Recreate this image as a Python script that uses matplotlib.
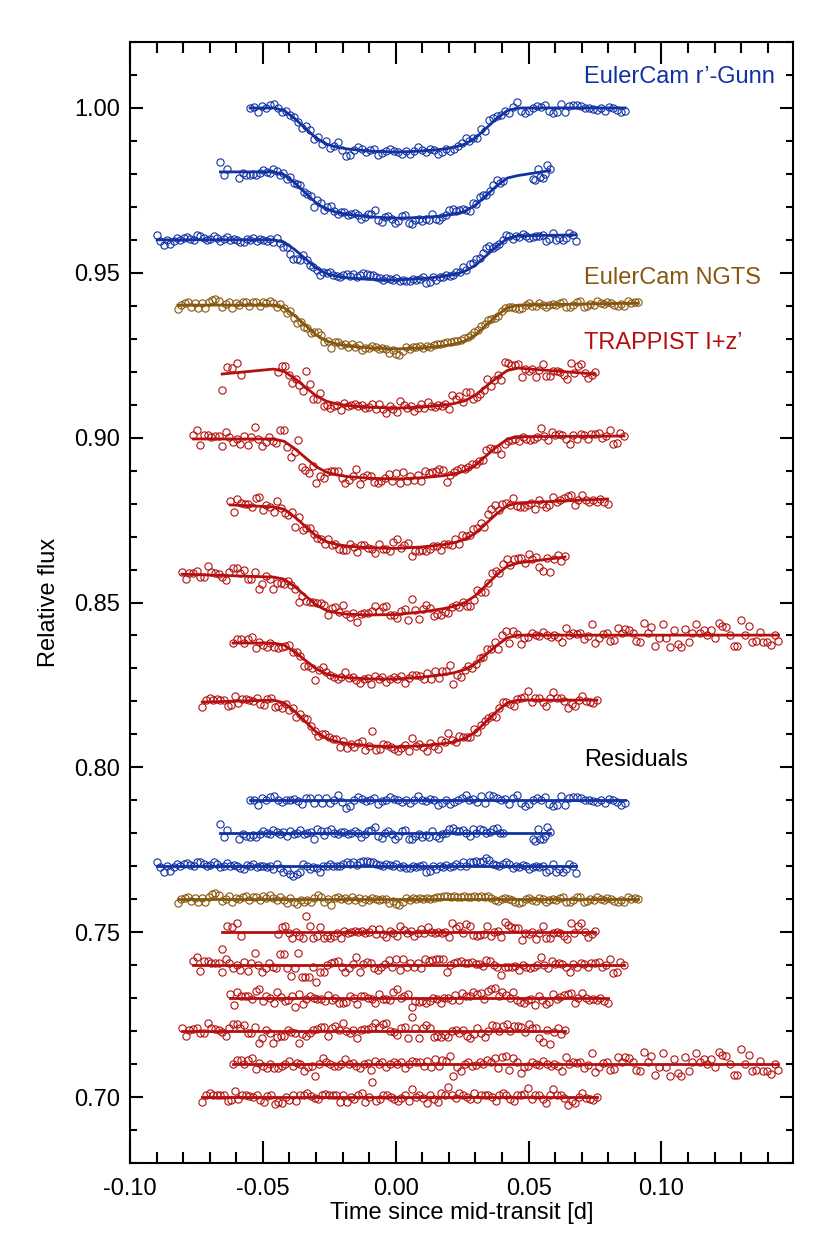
import numpy as np
import matplotlib.pyplot as plt
from matplotlib.ticker import MultipleLocator, FormatStrFormatter

plt.rcParams['font.family'] = ['Liberation Sans', 'DejaVu Sans']
plt.rcParams['axes.unicode_minus'] = False

# transit shape (fraction of the depth)
shape_t = [-0.046, -0.042, -0.038, -0.034, -0.030, -0.026, -0.022, -0.018, -0.010, 0.0,
           0.010, 0.018, 0.022, 0.026, 0.030, 0.034, 0.038, 0.042, 0.046]
shape_f = [0.0, 0.06, 0.24, 0.46, 0.68, 0.82, 0.89, 0.93, 0.975, 1.0,
           0.975, 0.93, 0.89, 0.82, 0.68, 0.46, 0.24, 0.06, 0.0]

# each light curve: time segments (start, end, n points), baseline at
# [start, ingress, egress, end], transit depth, residuals in units of 1e-4
b1_segs = [(-0.0548, 0.0863, None)]
b1_base = [1.0000, 1.0000, 1.0000, 1.0000]
b1_depth = 0.0134
b1_res = [0, 2, -13, 7, 0, 10, 12, 2, -6, 2, 0, 4, -3, -10, 7, 7, -8, 7, -8, 7,
          -8, 2, 17, -6, -23, -18, 0, 10, 4, -3, 2, 7, -10, -3, 2, 10, 4, 0, -6, 2,
          -8, 0, 14, 2, -3, 4, 0, -13, -8, 0, -10, -6, 0, 7, 17, 2, 4,
          -6, 12, -8, 17, 12, 7, 0, 4, -10, 7, 17, -8, -16, -10, 0, 7, 2, 10, -10, -16,
          -13, 12, -13, 7, 10, 10, 7, 0, 0, -3, -6, 0, -8, 4, 0, -6, -13, -8]

b2_segs = [(-0.0660, -0.0635, 3), (-0.0588, 0.0405, 79), (0.0516, 0.0580, None)]
b2_base = [0.9806, 0.9806, 0.9795, 0.9810]
b2_depth = 0.0135
b2_res = [29, -10, 10,
          -18, -3, -8, -10, -6, -10, -3, 7, 0, -3, 10, 4, -3, 4, -8, 7, -3, 2, 10, -3,
          2, 4, -18, 12, 7, -6, 7, 14, 2, -3, 4, 4, -3, 2, 7, 2, -10, -3, 7, 10,
          20, -8, -13, 2, 7, -3, -16, -8, 7, 10, -16, -18, -8, -3, -10, -6, -10, 7, -8, -13,
          -3, 0, 14, 17, 7, 7, 10, 2, -8, 12, 2, 12, 10, 2, 4, 12, 17, 2, 0,
          -18, -23, 12, -16, -18, -8, 19, 5]

b3_segs = [(-0.0898, 0.0678, None)]
b3_base = [0.9600, 0.9600, 0.9612, 0.9615]
b3_depth = 0.0128
b3_res = [14, -3, -16, 0, -13, -3, 7, 0, 7, 10, 4, 0, 14, 12, 7, 0, 4, 12, 7, -3,
          2, 10, 0, 4, 0, -6, -8, 4, 0, 7, -3, 2, 0, -3, 2, -8, 7, -6, -16, -10,
          -23, -30, -23, -18, 7, 0, -8, -3, -6, -16, 0, 2, 7, 0, 2, 0, 7, 12, 7, 12,
          4, 12, 17, 17, 12, 14, 7, 4, 0, 7, 4, 0, 7, -3, 0, -6, -6, 0, -3, 0,
          4, -16, -13, 0, -8, 0, -3, 4, -3, 0, 7, 2, 14,
          2, 14, 12, 17, 12, 17, 24, 20, 7, 4, 0, 7, 14, 7, -6, 0, -3, 4, 0, -8,
          -3, 0, -3, 0, -16, -10, 7, -16, -8, -16, -8, 7, 0, -20]

ng_segs = [(-0.0820, 0.0912, None)]
ng_base = [0.9402, 0.9402, 0.9402, 0.9408]
ng_depth = 0.0133
ng_res = [-12, 0, 5, 8, -5, 5, -8, 5, -8, 8, 15, 18, 12, -5, 2, 10, -8, 5, 0, 8,
          10, -2, 8, 8, -2, 10, 5, 12, 5, -2, 8, -2, -10, 5, -8, -15, -2, -8, -2, -8,
          5, 12, 8, -8, 0, -18, 5, 8, 0, 5, -2, 8, -2, 5, -8, 0, -2, 5, 2, -2,
          2, 0, -12, -5, -15, -18, -8, 5, -2, 5, 2, 5, 0, 5, 0, 5, 8, 8, 10, 10,
          8, 10, 8,
          8, 10, 8, 8, 10, 8, 10, 8, 10, 5, -2, -5, 2, 5, 0, -2, -8, -12, -8, 0,
          5, -2, -5, 5, 0, -8, -2, 2, -2, 5, 8, -8, -8, -2, 8, 8, -8, -5, 0, -2,
          8, 2, -2, 5, 2, -5, -8, -2, -8, 8, 2, 5, 2]

t1_segs = [(-0.0653, -0.0581, 5), (-0.0442, 0.0750, None)]
t1_base = [0.9193, 0.9208, 0.9211, 0.9193]
t1_depth = 0.0120
t1_res = [-50, 20, 15, 28, -10,
          -5, 15, 18, -2, -18, 2, -10, -18, 50, 20, -18, -10, 15, -18, -10, -18, -10, -2, -18, 5,
          -2, 2, 5, 2, 5, -2, 2, 10, -5, 10, -5, -15, 5, -2, -12, 20, 8, -2, 5, -10,
          -2, 10, -2, 15, 2, -2, 2, -2, 2, -15, 28, 12, 20, -2,
          25, 20, -8, -10, -8, -5, 20, -10, 0, 5, -15, 30, 22, 15, 12, 12, -25, -2, -5, 2,
          -22, -2, 18, -18, -18, -2, 0, -2, -10, -22, 28, -2, 20, 28, 0, -15, -5, 5]

t2_segs = [(-0.0762, 0.0859, None)]
t2_base = [0.8996, 0.8996, 0.9003, 0.9005]
t2_depth = 0.0125
t2_res = [13, 26, -17, 13, 13, 6, 8, 8, -20, 20, 6, -10, 0, -14, 10, -17, 6, 36, 0, -20,
          -10, 6, -7, -10, 33, 33, -10, -34, -10, 36, -37, -37, -37, -7, -50, -22, -22, 0, 8, 10,
          13, -7, -22, -10, 3, 26, -20, 3, 10, 6, -10, -14, -7, 3, 16, -7, 18, -14, 20, -7,
          6, -7, 8, -10, 20, 13, 16, 18, 20, 18, -20, 0, 6, 10, 13, 6,
          6, 10, 3, 3, -4, 16, 13, 0, -7, -30, -7, -7, -7, -4, -14, 0, -7, -10, -7, 0,
          26, 0, -10, 13, 3, 6, 3, -7, -22, 3, -7, 6, 3, -7, 8, 8, 10, -7, 0, 18,
          -24, -22, 10, 0]

t3_segs = [(-0.0623, 0.0797, None)]
t3_base = [0.8796, 0.8790, 0.8802, 0.8814]
t3_depth = 0.0132
t3_res = [13, -22, 18, 6, 6, 6, -4, 23, 28, -10, 6, 0, -14, 20, 3, -10, -7, 8, -27, 13,
          -17, -2, 6, 0, -4, -2, -10, 10, -7, 0, -14, -14, -12, 6, 0, -17, 6, 8, 0, -4,
          -14, 13, -4, -2, -7, 18, 28, 0, 8, 13, -27, -10, -12, -10, -14, -10, 0, -2, -14, 0,
          0, -7, 10, -7, 16, 8,
          6, 18, 13, 16, -4, 23, 28, 30, 8, 18, 10, 0, 18, -7, -12, -14, -7, -2, -20, 6,
          -7, -17, -12, 13, -2, 3, 10, 13, 16, -14, 0, 16, 0, -7, -2, -7, 0, -10, -14]

t4_segs = [(-0.0804, 0.0637, None)]
t4_base = [0.8586, 0.8577, 0.8620, 0.8638]
t4_depth = 0.0135
t4_res = [8, -14, 3, 6, 10, -7, -7, 26, 8, 6, 3, -4, -14, 10, 23, 23, 8, 18, -7, -7,
          13, -37, -22, 3, -7, -37, -17, -14, -14, 3, -2, -7, -37, -10, -14, -7, 3, 6, 13, 13,
          -14, 10, 16, 3, 26, 0, -7, 3, -22, 3, 6, 6, 13, 26, 13, 23, 26, 0, -2, -12,
          10, 13, -20, 43, 8, -20, 8, 18, 8, -17, -14, -17, -12, -17, 0, 3, -7,
          3, -14, -22, -10, 10, -7, -17, 0, 18, 16, 0, 16, 23, 0, 16, 16, 13, -2, 23, 8,
          10, -20, -34, 3, -40, -2, 10, -10, 3]

t5_segs = [(-0.0612, 0.1440, None)]
t5_base = [0.8377, 0.8377, 0.8401, 0.8401]
t5_depth = 0.0121
t5_res = [0, 13, 13, 0, 13, 17, -15, 3, -7, -13, 0, -13, -13, -7, 0, 10, -5, 3, 0, -20,
          -10, -7, -35, 0, 17, 5, 0, -5, -7, 0, 15, 0, 3, -7, -13, 0, 3, -17, 10, 0,
          5, -10, 0, 5, 0, 7, -13, 0, 10, 7, 5, -7, 10, -10, 15, -7, 13, 10, 25, -35,
          -10, -20, 0, 5,
          -7, -3, 5, 0, 13, 5, 17, -13, 20, 25, -17, 17, 5, -27, -10, -7, 7, 0, -3, 10,
          0, -7, 0, -7, -20, 23, 0, 5, 3, 5, -13, -3, 35, -23, -10, 3, 5, -17, -15, 23,
          5, 20, 17, 5, -17, -20, 37, 5, 25, -33, -10, 33, -10, -37, 15, -27, -35, 20, -20, 7,
          33, 7, 15, 0, 15, -10, 37, 27, 25, 0, -33, -33, 47, 0, 27, -20, -17, 10, -20, -20,
          -30, 0, -17]

t6_segs = [(-0.0728, 0.0757, None)]
t6_base = [0.8198, 0.8204, 0.8204, 0.8204]
t6_depth = 0.0142
t6_res = [-15, 5, 13, 5, 7, 5, 5, -13, -10, 17, -7, 7, 5, 3, 0, 7, -10, -15, 3, 7,
          -20, -15, -17, 0, -10, 5, -13, 7, 5, 13, 3, -3, -7, 5, 10, 7, 5, 7, -15, 5,
          -15, 0, -7, 5, 13, -15, 0, 45, -13, -7, 7, 5, 0, -7, -13, -3, 5, -13, 25, 0,
          5, -3, -17, 7, -5, -15, 13, 5, 30, 5, -3, 13,
          5, 0, -5, 13, -7, 5, 7, 5, 0, -13, 5, 13, 5, -5, -13, 5, 7, 10, 27, -7,
          5, 7, -7, -17, 7, 25, 5, 5, -3, -25, -13, -17, 0, 13, -3, -7, -10, 0]

res_offsets = [0.79, 0.78, 0.77, 0.76, 0.75, 0.74, 0.73, 0.72, 0.71, 0.70]

blue = '#1232a3'
brown = '#88570f'
red = '#b50f0f'

curves = [
    (b1_segs, b1_base, b1_depth, b1_res, blue),
    (b2_segs, b2_base, b2_depth, b2_res, blue),
    (b3_segs, b3_base, b3_depth, b3_res, blue),
    (ng_segs, ng_base, ng_depth, ng_res, brown),
    (t1_segs, t1_base, t1_depth, t1_res, red),
    (t2_segs, t2_base, t2_depth, t2_res, red),
    (t3_segs, t3_base, t3_depth, t3_res, red),
    (t4_segs, t4_base, t4_depth, t4_res, red),
    (t5_segs, t5_base, t5_depth, t5_res, red),
    (t6_segs, t6_base, t6_depth, t6_res, red),
]

fig = plt.figure(figsize=(8.3, 12.47), dpi=100)
ax = fig.add_axes([130 / 830, 1 - 1163 / 1247, 663 / 830, 1121 / 1247])

mk = dict(ls='none', marker='o', ms=5.2, mfc='none', mew=0.8)

for (segs, base, depth, res, col), off in zip(curves, res_offsets):
    res = np.array(res) * 1e-4
    counts = [s[2] for s in segs[:-1]]
    counts.append(len(res) - sum(counts))
    t = np.concatenate([np.linspace(a, b, n) for (a, b, _), n in zip(segs, counts)])
    t0, t1 = segs[0][0], segs[-1][1]

    line_t = np.concatenate([[t0], shape_t, [t1]])
    base_line = np.interp(line_t, [t0, shape_t[0], shape_t[-1], t1], base)
    line_f = base_line - depth * np.concatenate([[0.0], shape_f, [0.0]])
    flux = np.interp(t, line_t, line_f) + res

    ax.plot(t, flux, mec=col, **mk)
    ax.plot(line_t, line_f, color=col, lw=2, zorder=3)

    ax.plot(t, off + res, mec=col, **mk)
    ax.plot([t0, t1], [off, off], color=col, lw=2, zorder=3)

fs = 17
ax.text(0.0708, 1.0094, 'EulerCam r\u2019-Gunn', color=blue, fontsize=fs, va='center')
ax.text(0.0708, 0.9484, 'EulerCam NGTS', color=brown, fontsize=fs, va='center')
ax.text(0.0708, 0.9287, 'TRAPPIST I+z\u2019', color=red, fontsize=fs, va='center')
ax.text(0.0708, 0.8022, 'Residuals', color='black', fontsize=fs, va='center')

ax.set_xlim(-0.10, 0.1495)
ax.set_ylim(0.68, 1.02)
ax.xaxis.set_major_locator(MultipleLocator(0.05))
ax.xaxis.set_minor_locator(MultipleLocator(0.01))
ax.yaxis.set_major_locator(MultipleLocator(0.05))
ax.yaxis.set_minor_locator(MultipleLocator(0.01))
ax.xaxis.set_major_formatter(FormatStrFormatter('%.2f'))
ax.yaxis.set_major_formatter(FormatStrFormatter('%.2f'))

ax.tick_params(which='both', direction='in', top=True, right=True, width=1.5,
               labelsize=fs)
ax.tick_params(axis='x', which='major', length=16, pad=11)
ax.tick_params(axis='x', which='minor', length=8)
ax.tick_params(axis='y', which='major', length=9.5, pad=7)
ax.tick_params(axis='y', which='minor', length=4.7)
for s in ax.spines.values():
    s.set_linewidth(1.5)

ax.set_xlabel('Time since mid-transit [d]', fontsize=fs, labelpad=1)
ax.set_ylabel('Relative flux', fontsize=fs, labelpad=10)

fig.savefig('out.png', dpi=100)
